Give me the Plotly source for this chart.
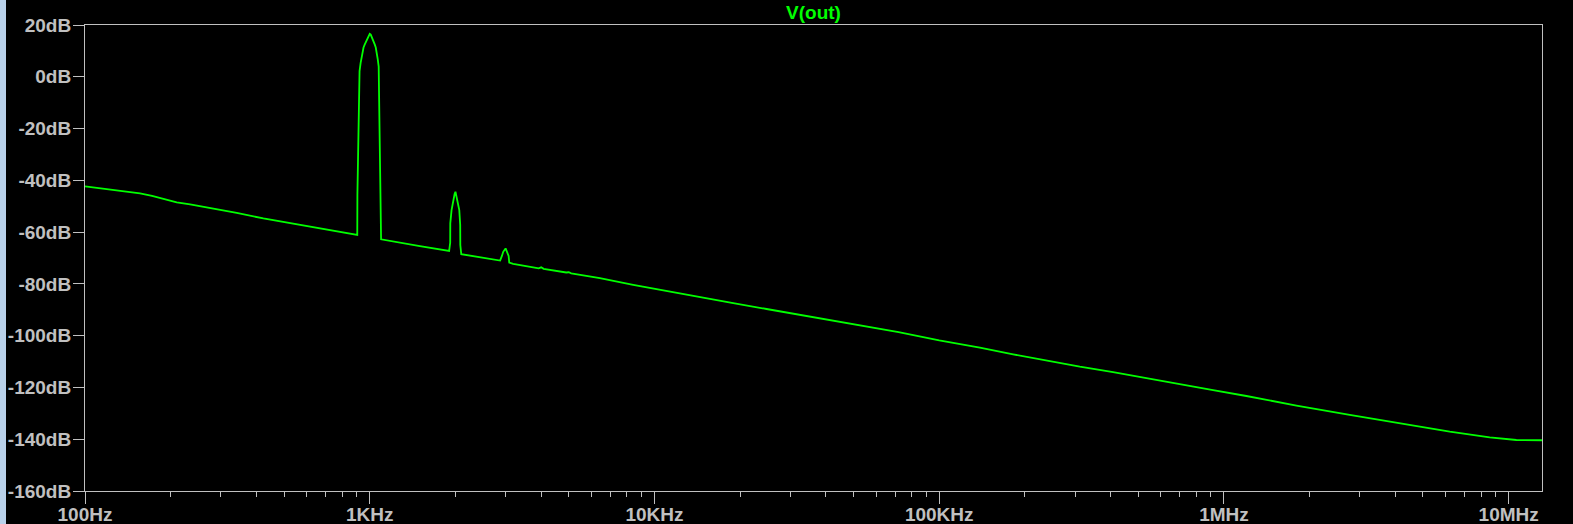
import plotly.graph_objects as go
import math

# ---- data (LTspice FFT of V(out)) ----
freq_hz = [
    100, 107, 116, 126, 140, 156, 172, 188, 210, 234, 282, 341, 423, 554, 725, 900,
    904, 905, 914, 921, 929, 936, 944, 951, 959, 967, 975, 983, 991, 996, 1000,
    1008, 1016, 1024, 1033, 1041, 1050, 1058, 1067, 1075, 1080, 1088, 1096,
    1500, 1900,
    1917, 1918, 1938, 1954, 1970, 1986, 2000, 2013, 2029, 2046, 2063, 2078, 2080, 2096,
    2500, 2870,
    2912, 2943, 3000, 3041, 3074, 3090, 3190,
    3750, 3920, 4000, 4080, 4900, 5000, 5100, 6430, 8420, 11000, 14400, 18900,
    24750, 32400, 42400, 55500, 72000, 100000, 138900, 181800, 238100, 311700,
    408000, 534400, 699500, 915600, 1199000, 1797000, 2765000, 4143000, 6207000,
    8578000, 10640000, 13090000,
]
vout_db = [
    -42.3, -42.7, -43.1, -43.5, -44.2, -45.0, -46.0, -47.2, -48.5, -49.3, -50.8, -52.6, -54.7, -57.0, -59.2, -60.9,
    -61.1, -45.7, -14.8, 2.2, 5.4, 7.8, 9.7, 11.3, 12.3, 13.2, 14.1, 14.85, 15.75, 16.4, 16.6,
    16.3, 15.5, 14.5, 13.4, 12.5, 11.3, 9.7, 6.7, 3.9, -13.9, -46.3, -62.8,
    -65.4, -67.3,
    -64.1, -56.6, -51.5, -48.9, -47.0, -45.3, -44.4, -45.7, -47.6, -48.9, -51.5, -57.2, -65.0, -68.5,
    -69.8, -71.0,
    -69.2, -67.6, -66.3, -67.6, -69.2, -71.8, -72.3,
    -73.6, -74.0, -73.6, -74.2, -75.6, -75.5, -75.9, -77.8, -80.4, -82.8, -85.0, -87.4,
    -89.7, -92.0, -94.2, -96.4, -98.6, -101.8, -104.6, -107.2, -109.7, -112.0,
    -114.1, -116.5, -118.7, -121.0, -123.3, -127.0, -130.6, -133.9, -137.1,
    -139.3, -140.3, -140.4,
]

x_tick_vals = [1e2, 1e3, 1e4, 1e5, 1e6, 1e7]
x_tick_text = ["100Hz", "1KHz", "10KHz", "100KHz", "1MHz", "10MHz"]
y_tick_vals = [20, 0, -20, -40, -60, -80, -100, -120, -140, -160]
y_tick_text = ["20dB", "0dB", "-20dB", "-40dB", "-60dB", "-80dB", "-100dB", "-120dB", "-140dB", "-160dB"]
trace_name = "V(out)"

x_min, x_max = 100, 13.09e6
minor_vals = [m * 10 ** e for e in range(2, 8) for m in range(2, 10) if m * 10 ** e < x_max]

W, H = 1573, 524
ML, MR, MT, MB = 85, 31, 25, 33
gray = "#c0c0c0"
tick_font = dict(family="Liberation Sans, Arial, sans-serif", size=19, color=gray, weight="bold")

fig = go.Figure()
fig.add_trace(go.Scatter(x=freq_hz, y=vout_db, mode="lines", name=trace_name,
                         line=dict(color="#00ff00", width=1.8), showlegend=False))

fig.update_layout(
    width=W, height=H,
    margin=dict(l=ML, r=MR, t=MT, b=MB, pad=0, autoexpand=False),
    paper_bgcolor="black", plot_bgcolor="black",
    title=dict(text="<b>" + trace_name + "</b>", x=(ML + (W - ML - MR) / 2) / W, xanchor="center",
               y=1 - 12 / H, yanchor="middle", yref="container",
               font=dict(family="Liberation Sans, Arial, sans-serif", size=19, color="#00ff00")),
    xaxis=dict(type="log", range=[math.log10(x_min), math.log10(x_max)],
               tickmode="array", tickvals=x_tick_vals, ticktext=x_tick_text,
               ticks="outside", ticklen=12, tickwidth=1, tickcolor=gray,
               minor=dict(tickmode="array", tickvals=minor_vals, ticks="outside", ticklen=5,
                          tickwidth=1, tickcolor=gray, showgrid=False),
               showgrid=False, zeroline=False, showline=True, mirror=True, automargin=False,
               linecolor=gray, linewidth=1, tickfont=tick_font, ticklabelstandoff=-6),
    yaxis=dict(range=[-160, 20], tickmode="array", tickvals=y_tick_vals, ticktext=y_tick_text,
               ticks="outside", ticklen=11, tickwidth=1, tickcolor=gray, automargin=False,
               showgrid=False, zeroline=False, showline=True, mirror=True,
               linecolor=gray, linewidth=1, tickfont=tick_font, ticklabelstandoff=-2),
)

pw, ph = W - ML - MR, H - MT - MB
fig.add_shape(type="rect", xref="paper", yref="paper",
              x0=-ML / pw, x1=-(ML - 6) / pw, y0=-MB / ph, y1=(ph + MT) / ph,
              fillcolor="#b9d1ea", line=dict(width=0), layer="above")

fig.write_html("out.html", config={"displayModeBar": False},
               post_script="document.body.style.margin='0px';document.body.style.overflow='hidden';")
